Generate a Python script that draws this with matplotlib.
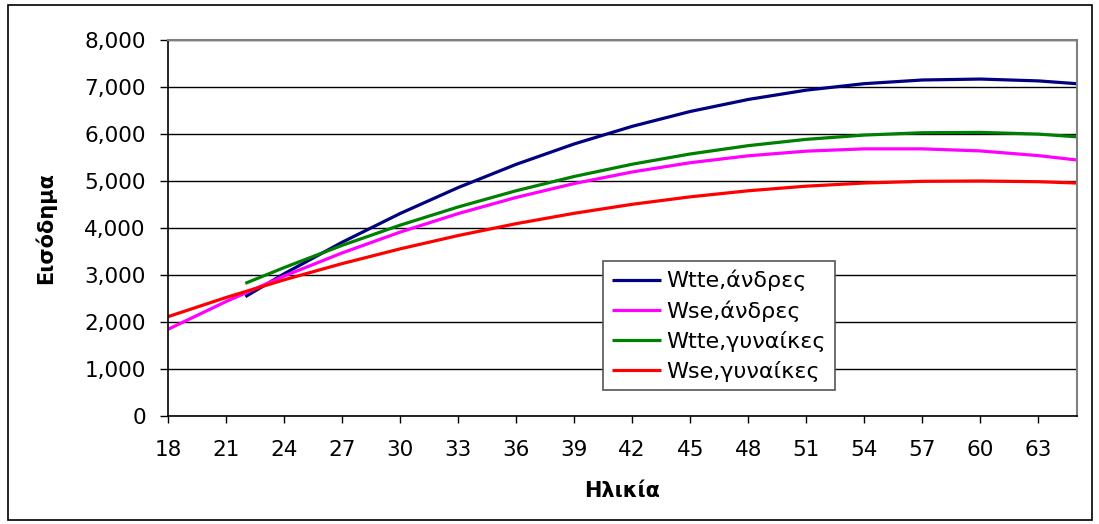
import matplotlib
matplotlib.use("Agg")
import matplotlib.pyplot as plt
from matplotlib.patches import Rectangle
from matplotlib.ticker import FuncFormatter

plt.rcParams['font.family'] = ['DejaVu Sans']

# Data
ages_full = [18, 21, 24, 27, 30, 33, 36, 39, 42, 45, 48, 51, 54, 57, 60, 63, 65]
ages_late = [22, 24, 27, 30, 33, 36, 39, 42, 45, 48, 51, 54, 57, 60, 63, 65]

wtte_men = [2539, 3025, 3696, 4308, 4860, 5354, 5788, 6163, 6479, 6735, 6933, 7071, 7149, 7169, 7130, 7070]
wse_men = [1844, 2435, 2977, 3469, 3912, 4306, 4650, 4946, 5192, 5389, 5536, 5635, 5684, 5684, 5640, 5540, 5447]
wtte_women = [2823, 3157, 3630, 4060, 4447, 4793, 5096, 5357, 5575, 5752, 5886, 5977, 6027, 6034, 5998, 5940]
wse_women = [2113, 2521, 2897, 3242, 3556, 3839, 4092, 4313, 4504, 4663, 4792, 4890, 4957, 4993, 5000, 4985, 4957]

labels = ['Wtte,άνδρες', 'Wse,άνδρες', 'Wtte,γυναίκες', 'Wse,γυναίκες']
colors = ['#000080', '#FF00FF', '#008000', '#FF0000']
xticks = list(range(18, 64, 3))
yticks = list(range(0, 8001, 1000))

W, H = 1099, 524
fig = plt.figure(figsize=(W / 100, H / 100), dpi=100)
fig.patches.append(Rectangle((8 / W, 4 / H), (1092 - 8) / W, (519 - 4) / H,
                             transform=fig.transFigure, fill=False,
                             edgecolor='black', linewidth=1.2))

ax = fig.add_axes([168 / W, 1 - 416 / H, (1077 - 168) / W, (416 - 40) / H])

series = [(ages_late, wtte_men), (ages_full, wse_men), (ages_late, wtte_women), (ages_full, wse_women)]
for (xs, ys), lab, col in zip(series, labels, colors):
    ax.plot(xs, ys, color=col, linewidth=2.3, label=lab, solid_capstyle='butt')

ax.set_xlim(18, 65)
ax.set_ylim(0, 8000)
ax.set_xticks(xticks)
ax.set_yticks(yticks)
ax.yaxis.set_major_formatter(FuncFormatter(lambda v, p: f"{int(v):,}"))
ax.grid(axis='y', color='black', linewidth=1.0)
ax.set_axisbelow(True)

for s in ['top', 'right']:
    ax.spines[s].set_color('#808080')
    ax.spines[s].set_linewidth(1.5)
for s in ['left', 'bottom']:
    ax.spines[s].set_color('black')
    ax.spines[s].set_linewidth(1.2)

ax.tick_params(axis='both', direction='out', width=1.0, colors='black',
               labelsize=15.5)
ax.tick_params(axis='y', length=6, pad=10)
ax.tick_params(axis='x', length=5, pad=12)

ax.set_xlabel('Ηλικία', fontsize=15, fontweight='bold')
ax.set_ylabel('Εισόδημα', fontsize=15, fontweight='bold')
ax.xaxis.set_label_coords((622 - 168) / 909, (416 - 491) / 376)
ax.xaxis.label.set_va('center')
ax.yaxis.set_label_coords((45 - 168) / 909, (416 - 228) / 376)
ax.yaxis.label.set_va('center')

leg = ax.legend(loc='upper left', bbox_to_anchor=((603 - 168) / 909, (416 - 261) / 376),
                borderaxespad=0, fontsize=16, frameon=True, fancybox=False,
                handlelength=2.2, handletextpad=0.25, labelspacing=0.4,
                borderpad=0.4)
leg.get_frame().set_edgecolor('#555555')
leg.get_frame().set_linewidth(1.2)
leg.get_frame().set_alpha(1)

fig.savefig('out.png', dpi=100)
